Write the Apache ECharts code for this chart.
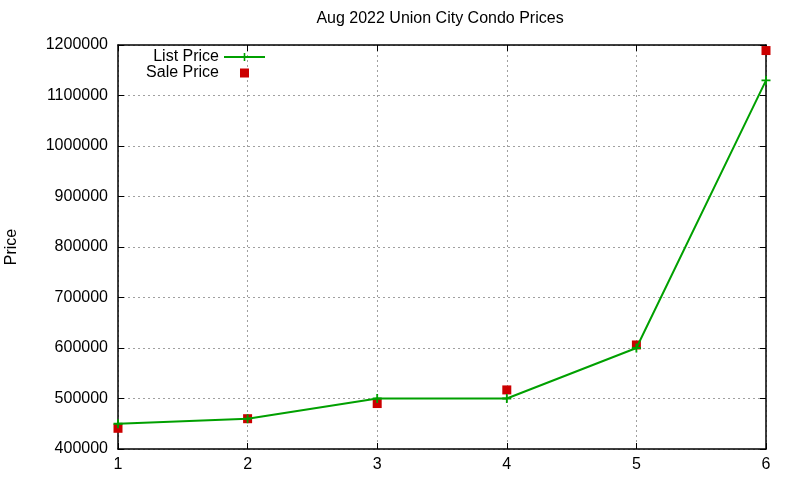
<!DOCTYPE html>
<html>
<head>
<meta charset="utf-8">
<script src="https://cdn.jsdelivr.net/npm/echarts@6/dist/echarts.min.js"></script>
<style>
  html, body { margin: 0; padding: 0; background: #fff; }
  #main { width: 800px; height: 480px; }
</style>
</head>
<body>
<div id="main"></div>
<script>
// data
var units = [1, 2, 3, 4, 5, 6];
var listPrice = [450000, 460000, 500000, 500000, 600000, 1130000];
var salePrice = [441000, 460000, 490000, 517000, 606000, 1189000];

var chart = echarts.init(document.getElementById('main'));
var font = 'Liberation Sans, Arial, sans-serif';
var plus = 'path://M4,0H6V4H10V6H6V10H4V6H0V4H4Z';
// square in the middle of a 41px wide legend slot
var keySquare = 'path://M0,0h0.01v0.01h-0.01z M41,9h0.01v0.01h-0.01z M16,0h9v9h-9z';

function pairs(ys) {
    return units.map(function (x, i) { return [x, ys[i]]; });
}

var gridLine = { show: true, lineStyle: { color: '#a0a0a0', type: [2, 3], width: 1 } };
var border = { show: true, onZero: false, lineStyle: { color: '#000', width: 1.5 } };
var tick = { show: true, inside: true, length: 6, lineStyle: { color: '#000', width: 1 } };

option = {
    animation: false,
    title: {
        text: 'Aug 2022 Union City Condo Prices',
        left: 440, top: 11, textAlign: 'center', padding: 0,
        textStyle: { fontFamily: font, fontSize: 16, fontWeight: 'normal', color: '#000' }
    },
    legend: {
        orient: 'vertical',
        right: 534, top: 49, padding: 0,
        align: 'right',
        itemWidth: 41, itemHeight: 10, itemGap: 0,
        textStyle: { fontFamily: font, fontSize: 16, color: '#000' },
        data: [{ name: 'List Price' }, { name: 'Sale Price', icon: keySquare }]
    },
    grid: { left: 118, right: 34, top: 45, bottom: 31, outerBoundsMode: 'none' },
    xAxis: [
        {
            type: 'value', min: 1, max: 6, interval: 1, position: 'bottom',
            axisLine: border, axisTick: tick, splitLine: gridLine,
            axisLabel: { fontFamily: font, fontSize: 16, color: '#000', margin: 8 }
        },
        {
            type: 'value', min: 1, max: 6, interval: 1, position: 'top',
            axisLine: border, axisTick: tick, splitLine: { show: false },
            axisLabel: { show: false }
        }
    ],
    yAxis: [
        {
            type: 'value', min: 400000, max: 1200000, interval: 100000, position: 'left',
            name: 'Price', nameLocation: 'middle', nameGap: 98, nameRotate: 90,
            nameTextStyle: { fontFamily: font, fontSize: 16, color: '#000' },
            axisLine: border, axisTick: tick, splitLine: gridLine,
            axisLabel: {
                fontFamily: font, fontSize: 16, color: '#000', margin: 10,
                formatter: function (v) { return String(v); }
            }
        },
        {
            type: 'value', min: 400000, max: 1200000, interval: 100000, position: 'right',
            axisLine: border, axisTick: tick, splitLine: { show: false },
            axisLabel: { show: false }
        }
    ],
    series: [
        {
            name: 'List Price',
            type: 'line',
            data: pairs(listPrice),
            symbol: plus, symbolSize: 9,
            showAllSymbol: true,
            lineStyle: { color: '#00a000', width: 2 },
            itemStyle: { color: '#00a000' }
        },
        {
            name: 'Sale Price',
            type: 'scatter',
            data: pairs(salePrice),
            symbol: 'rect', symbolSize: 9,
            itemStyle: { color: '#cc0000', opacity: 1 }
        }
    ]
};

chart.setOption(option);
</script>
</body>
</html>
